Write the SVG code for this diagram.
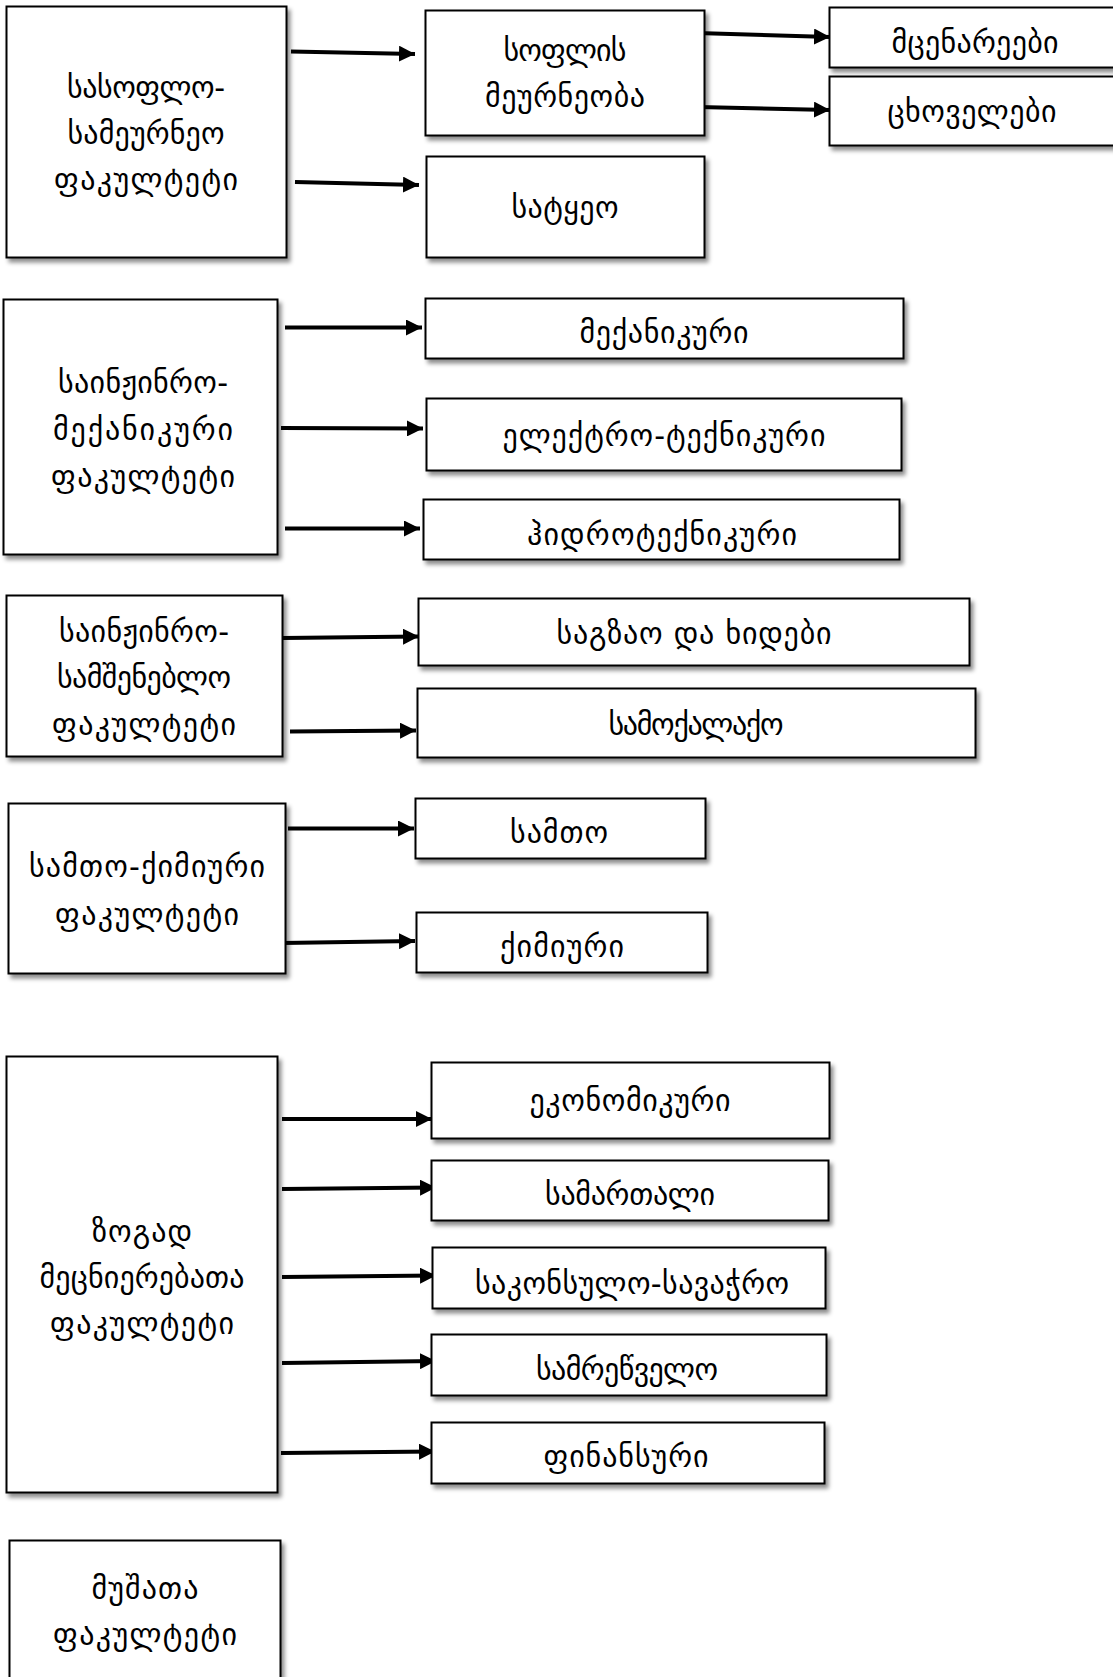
<svg xmlns="http://www.w3.org/2000/svg" width="1113" height="1677" viewBox="0 0 1113 1677">
<style>
.box{fill:#fff;stroke:#000;stroke-width:2;filter:url(#sh)}
.t{font-family:"DejaVu Sans",sans-serif;font-size:30px;fill:#000;text-anchor:middle;dominant-baseline:central}
.c{stroke:#000;stroke-width:4;fill:none;marker-end:url(#ah)}
</style>
<defs>
<filter id="sh" x="-10%" y="-10%" width="130%" height="130%">
<feDropShadow dx="3" dy="4" stdDeviation="2.2" flood-color="#000" flood-opacity="0.45"/>
</filter>
<marker id="ah" markerUnits="userSpaceOnUse" markerWidth="16" markerHeight="16" refX="16" refY="8" orient="auto">
<path d="M0,0 L16,8 L0,16 z" fill="#000"/>
</marker>
</defs>
<rect width="1113" height="1677" fill="#fff"/>

<g id="connectors">
<line class="c" x1="291" y1="51.5" x2="415" y2="54"/>
<line class="c" x1="295" y1="182" x2="419" y2="185"/>
<line class="c" x1="697" y1="33" x2="830" y2="37"/>
<line class="c" x1="698" y1="107" x2="830" y2="110"/>
<line class="c" x1="285" y1="327.5" x2="422" y2="327.5"/>
<line class="c" x1="281" y1="428" x2="423" y2="428.5"/>
<line class="c" x1="285" y1="528.5" x2="420" y2="528.5"/>
<line class="c" x1="283" y1="638" x2="419" y2="636.5"/>
<line class="c" x1="290" y1="731.5" x2="416" y2="730.5"/>
<line class="c" x1="288" y1="828.5" x2="414" y2="828.5"/>
<line class="c" x1="282" y1="943" x2="415" y2="941"/>
<line class="c" x1="282" y1="1119" x2="432" y2="1119"/>
<line class="c" x1="282" y1="1189" x2="436" y2="1187.5"/>
<line class="c" x1="282" y1="1277" x2="436" y2="1275.5"/>
<line class="c" x1="282" y1="1363" x2="436" y2="1361"/>
<line class="c" x1="281" y1="1453" x2="435" y2="1451.5"/>
</g>

<g id="n-agri">
<rect class="box" x="6.5" y="6.5" width="280" height="251"/>
<text class="t" x="146" y="87" textLength="158" lengthAdjust="spacing">სასოფლო-</text>
<text class="t" x="146" y="133" textLength="157" lengthAdjust="spacing">სამეურნეო</text>
<text class="t" x="146" y="179" textLength="184" lengthAdjust="spacing">ფაკულტეტი</text>
</g>
<g id="n-farming">
<rect class="box" x="425.5" y="10.5" width="279" height="125"/>
<text class="t" x="565" y="50" textLength="123" lengthAdjust="spacing">სოფლის</text>
<text class="t" x="565" y="96" textLength="160" lengthAdjust="spacing">მეურნეობა</text>
</g>
<g id="n-forestry">
<rect class="box" x="426.5" y="156.5" width="278" height="101"/>
<text class="t" x="565" y="207" textLength="107" lengthAdjust="spacing">სატყეო</text>
</g>
<g id="n-plants">
<rect class="box" x="829.5" y="7.5" width="290" height="60"/>
<text class="t" x="975" y="42" textLength="167" lengthAdjust="spacing">მცენარეები</text>
</g>
<g id="n-animals">
<rect class="box" x="829.5" y="76.5" width="290" height="69"/>
<text class="t" x="972" y="111" textLength="169" lengthAdjust="spacing">ცხოველები</text>
</g>

<g id="n-mech-fac">
<rect class="box" x="3.5" y="299.5" width="274" height="255"/>
<text class="t" x="143" y="382" textLength="170" lengthAdjust="spacing">საინჟინრო-</text>
<text class="t" x="143" y="429" textLength="180" lengthAdjust="spacing">მექანიკური</text>
<text class="t" x="143" y="476" textLength="184" lengthAdjust="spacing">ფაკულტეტი</text>
</g>
<g id="n-mech">
<rect class="box" x="425.5" y="298.5" width="478" height="60"/>
<text class="t" x="664" y="332" textLength="169" lengthAdjust="spacing">მექანიკური</text>
</g>
<g id="n-elec">
<rect class="box" x="426.5" y="398.5" width="475" height="72"/>
<text class="t" x="664" y="435" textLength="323" lengthAdjust="spacing">ელექტრო-ტექნიკური</text>
</g>
<g id="n-hydro">
<rect class="box" x="423.5" y="499.5" width="476" height="60"/>
<text class="t" x="662" y="534" textLength="270" lengthAdjust="spacing">ჰიდროტექნიკური</text>
</g>

<g id="n-civil-fac">
<rect class="box" x="6.5" y="595.5" width="276" height="161"/>
<text class="t" x="144" y="631" textLength="170" lengthAdjust="spacing">საინჟინრო-</text>
<text class="t" x="144" y="677" textLength="174" lengthAdjust="spacing">სამშენებლო</text>
<text class="t" x="144" y="724" textLength="184" lengthAdjust="spacing">ფაკულტეტი</text>
</g>
<g id="n-roads">
<rect class="box" x="418.5" y="598.5" width="551" height="67"/>
<text class="t" x="694" y="633" textLength="275" lengthAdjust="spacing">საგზაო და ხიდები</text>
</g>
<g id="n-civil">
<rect class="box" x="417.5" y="688.5" width="558" height="69"/>
<text class="t" x="696" y="724" textLength="175" lengthAdjust="spacing">სამოქალაქო</text>
</g>

<g id="n-chem-fac">
<rect class="box" x="8.5" y="803.5" width="277" height="170"/>
<text class="t" x="147" y="866" textLength="236" lengthAdjust="spacing">სამთო-ქიმიური</text>
<text class="t" x="147" y="914" textLength="184" lengthAdjust="spacing">ფაკულტეტი</text>
</g>
<g id="n-mining">
<rect class="box" x="415.5" y="798.5" width="290" height="60"/>
<text class="t" x="559" y="832" textLength="98" lengthAdjust="spacing">სამთო</text>
</g>
<g id="n-chem">
<rect class="box" x="416.5" y="912.5" width="291" height="60"/>
<text class="t" x="562" y="946" textLength="124" lengthAdjust="spacing">ქიმიური</text>
</g>

<g id="n-sci-fac">
<rect class="box" x="6.5" y="1056.5" width="271" height="436"/>
<text class="t" x="142" y="1231" textLength="100" lengthAdjust="spacing">ზოგად</text>
<text class="t" x="142" y="1277" textLength="205" lengthAdjust="spacing">მეცნიერებათა</text>
<text class="t" x="142" y="1323" textLength="184" lengthAdjust="spacing">ფაკულტეტი</text>
</g>
<g id="n-econ">
<rect class="box" x="431.5" y="1062.5" width="398" height="76"/>
<text class="t" x="630" y="1100" textLength="201" lengthAdjust="spacing">ეკონომიკური</text>
</g>
<g id="n-law">
<rect class="box" x="431.5" y="1160.5" width="397" height="60"/>
<text class="t" x="630" y="1194" textLength="170" lengthAdjust="spacing">სამართალი</text>
</g>
<g id="n-trade">
<rect class="box" x="432.5" y="1247.5" width="393" height="61"/>
<text class="t" x="632" y="1283" textLength="314" lengthAdjust="spacing">საკონსულო-სავაჭრო</text>
</g>
<g id="n-industry">
<rect class="box" x="431.5" y="1334.5" width="395" height="61"/>
<text class="t" x="627" y="1369" textLength="182" lengthAdjust="spacing">სამრეწველო</text>
</g>
<g id="n-finance">
<rect class="box" x="431.5" y="1422.5" width="393" height="61"/>
<text class="t" x="626" y="1456" textLength="165" lengthAdjust="spacing">ფინანსური</text>
</g>

<g id="n-workers">
<rect class="box" x="9.5" y="1540.5" width="271" height="160"/>
<text class="t" x="145" y="1588" textLength="107" lengthAdjust="spacing">მუშათა</text>
<text class="t" x="145" y="1634" textLength="184" lengthAdjust="spacing">ფაკულტეტი</text>
</g>
</svg>
